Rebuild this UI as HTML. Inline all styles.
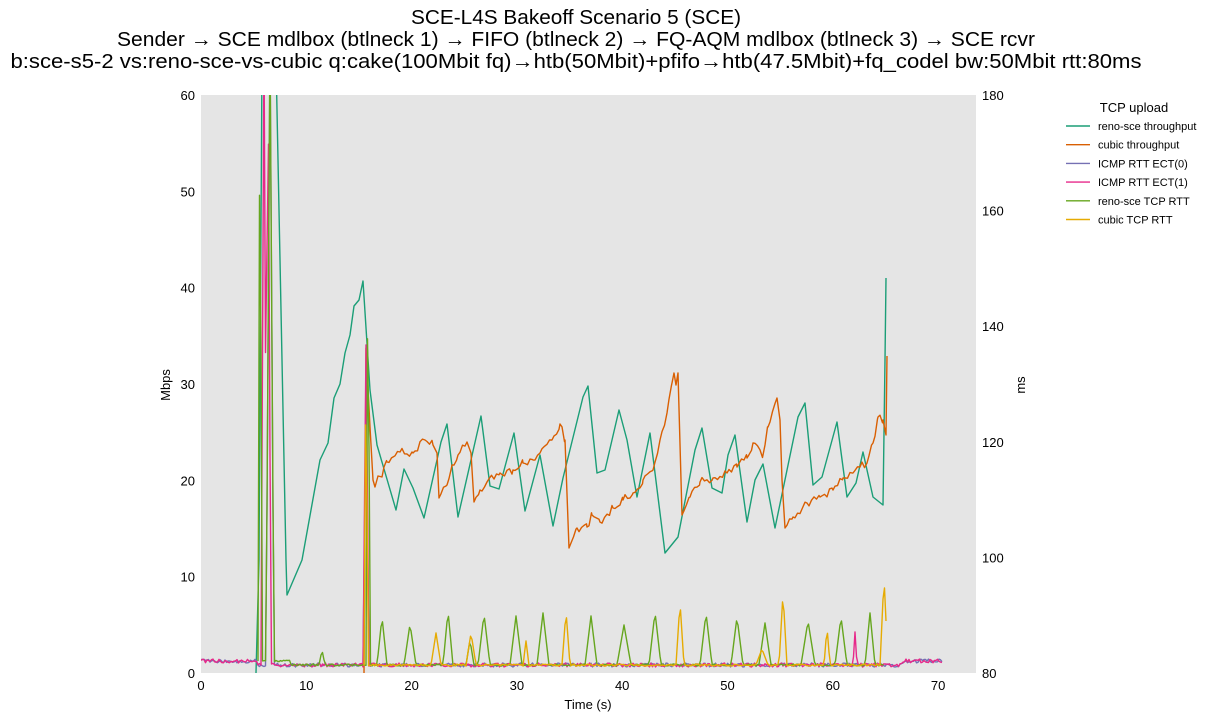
<!DOCTYPE html>
<html><head><meta charset="utf-8"><style>
body{margin:0;background:#fff;font-family:"Liberation Sans",sans-serif;}
svg text{font-family:"Liberation Sans",sans-serif;}
</style></head><body>
<svg id="s" width="1231" height="721" xmlns="http://www.w3.org/2000/svg">
<rect width="1231" height="721" fill="#fff"/>
<text x="576" y="24" font-size="20" text-anchor="middle" textLength="330" lengthAdjust="spacingAndGlyphs">SCE-L4S Bakeoff Scenario 5 (SCE)</text>
<text x="576" y="46" font-size="20" text-anchor="middle" textLength="918" lengthAdjust="spacingAndGlyphs">Sender → SCE mdlbox (btlneck 1) → FIFO (btlneck 2) → FQ-AQM mdlbox (btlneck 3) → SCE rcvr</text>
<text x="576" y="68" font-size="20" text-anchor="middle" textLength="1131" lengthAdjust="spacingAndGlyphs">b:sce-s5-2 vs:reno-sce-vs-cubic q:cake(100Mbit fq)→htb(50Mbit)+pfifo→htb(47.5Mbit)+fq_codel bw:50Mbit rtt:80ms</text>
<rect x="201" y="95" width="775" height="578" fill="#e5e5e5"/>
<defs><clipPath id="c"><rect x="201" y="95" width="775" height="578"/></clipPath></defs>
<g id="plot" clip-path="url(#c)" fill="none" stroke-width="1.4" stroke-linejoin="round"></g>
<g font-size="13" text-anchor="end" id="yl"></g>
<g font-size="13" id="yr"></g>
<g font-size="13" text-anchor="middle" id="xt"></g>
<text x="588" y="709" font-size="13" text-anchor="middle">Time (s)</text>
<text transform="translate(170,385) rotate(-90)" font-size="13" text-anchor="middle">Mbps</text>
<text transform="translate(1025,385) rotate(-90)" font-size="13" text-anchor="middle">ms</text>
<text x="1134" y="112" font-size="13" text-anchor="middle">TCP upload</text>
<g font-size="11" id="leg"></g>
</svg>
<script>
var NS="http://www.w3.org/2000/svg",s=document.getElementById('s');
function el(p,t,a,txt){var e=document.createElementNS(NS,t);for(var k in a)e.setAttribute(k,a[k]);if(txt!=null)e.textContent=txt;document.getElementById(p).appendChild(e);}
for(var i=0;i<=6;i++){el('yl','text',{x:195,y:673-i*96.33+5},String(i*10));}
for(var i=0;i<=5;i++){el('yr','text',{x:982,y:673-i*115.6+5},String(80+i*20));}
for(var i=0;i<=7;i++){el('xt','text',{x:201+i*105.3,y:690},String(i*10));}
var cols=['#1b9e77','#d95f02','#7570b3','#e7298a','#66a61e','#e6ab02'];
var names=['reno-sce throughput','cubic throughput','ICMP RTT ECT(0)','ICMP RTT ECT(1)','reno-sce TCP RTT','cubic TCP RTT'];
for(var i=0;i<6;i++){var y=126+i*18.7;el('leg','line',{x1:1066,x2:1090,y1:y,y2:y,stroke:cols[i],'stroke-width':1.4});el('leg','text',{x:1098,y:y+4},names[i]);}
function pl(pts,c){el('plot','polyline',{points:pts.map(function(p){return p[0].toFixed(1)+','+p[1].toFixed(1)}).join(' '),stroke:c});}
var seed=1;function rnd(){seed=(seed*16807)%2147483647;return seed/2147483647;}
function rtt(x0,x1,base,spikes,noise){var p=[],x=x0;while(x<=x1){var y=base(x)+(rnd()-0.5)*noise;for(var i=0;i<spikes.length;i++){var s=spikes[i];var d=Math.abs(x-s[0]);if(d<s[2]){var v=s[1]+(base(x)-s[1])*(d/s[2]);if(v<y)y=v;}}p.push([x,y]);x+=1.5;}return p;}
function b1(x){return x<258?661:(x>902?661:665);}
pl([[256,673],[259,560],[262,60],[276,60],[286,560],[287,595],[302,560],[320,460],[328,443],[334,398],[340,384],[345,353],[350,335],[354,306],[359,300],[363,281],[370,390],[377,445],[396,510],[404,469],[413,488],[424,518],[441,442],[447,424],[458,517],[481,416],[490,486],[499,489],[514,433],[525,511],[540,455],[553,526],[563,478],[583,397],[588,386],[597,473],[605,470],[619,410],[627,440],[637,497],[650,433],[665,553],[678,537],[695,450],[702,428],[712,488],[722,493],[728,455],[735,435],[747,522],[755,480],[763,464],[775,528],[798,417],[805,403],[813,485],[822,477],[837,422],[847,497],[856,483],[863,452],[873,497],[883,505],[885,360],[886,278]],cols[0]);
var o=[[364,673],[366,348],[370,427],[373,480],[375,487],[378,476],[382,477],[387,462],[393,457],[400,452],[413,453],[425,440],[433,445],[437,453],[439,498],[447,485],[452,465],[458,455],[467,442],[471,453],[474,502],[480,490],[487,482],[500,473],[513,470],[523,463],[533,460],[540,453],[552,440],[560,424],[565,440],[569,548],[577,528],[587,527],[592,515],[600,522],[613,508],[623,500],[633,493],[643,480],[653,470],[660,440],[667,413],[672,383],[674,373],[676,385],[678,373],[682,515],[690,497],[700,482],[713,478],[727,473],[737,467],[747,458],[753,443],[763,455],[768,427],[777,398],[780,420],[782,480],[785,528],[793,517],[807,503],[820,497],[833,490],[843,478],[853,473],[860,467],[867,463],[873,443],[878,417],[883,420],[886,435],[887,356]];
var oo=[];for(var i=0;i<o.length-1;i++){oo.push(o[i]);var dx=o[i+1][0]-o[i][0];if(dx>4&&i>4){for(var k=2;k<dx;k+=2.5){var t=k/dx;oo.push([o[i][0]+k,o[i][1]+(o[i+1][1]-o[i][1])*t+(rnd()-0.5)*8]);}}}oo.push(o[o.length-1]);
pl(oo,cols[1]);
pl(rtt(201,942,b1,[[270,40,4],[366,400,3]],4),cols[2]);
pl(rtt(201,942,b1,[[264,40,3],[268,40,3],[366,345,3],[855,632,2]],4),cols[3]);
pl(rtt(258,884,function(x){return x<290?661:665},[[260,40,2],[270,40,4],[322,650,3],[368,230,2],[382,617,5],[410,624,6],[448,611,5],[470,640,4],[484,614,6],[516,616,6],[543,613,6],[591,616,6],[624,625,7],[655,612,6],[706,613,6],[737,617,6],[765,623,6],[808,621,7],[841,617,6],[870,613,5]],2),cols[4]);
pl(rtt(364,886,function(x){return 665},[[366,345,2],[436,633,5],[471,633,5],[526,641,3],[566,611,4],[680,602,4],[762,649,6],[783,593,4],[827,627,3],[884,577,4]],2),cols[5]);
</script>
</body></html>
